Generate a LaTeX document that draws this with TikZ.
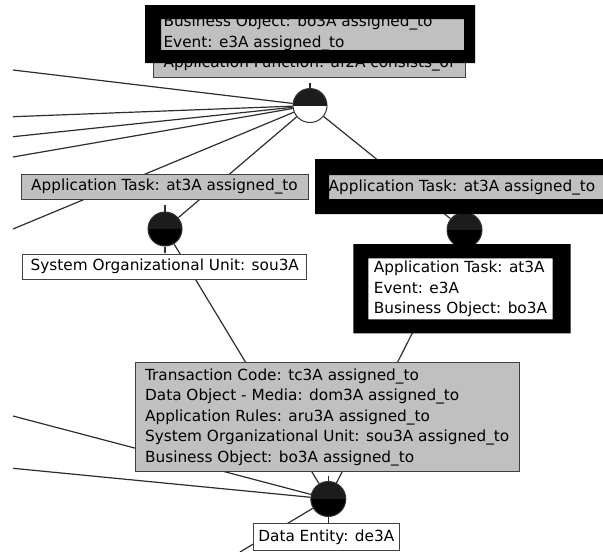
\documentclass[tikz,border=0pt]{standalone}
\usepackage{fontspec}
\usetikzlibrary{backgrounds}
\newfontfamily\diafont{DejaVu Sans}
\definecolor{boxgray}{HTML}{C0C0C0}
\definecolor{linegray}{HTML}{2E2E2E}
\definecolor{halfdark}{HTML}{1C1C1C}
\tikzset{
  % rutor
  ebox/.style={rectangle,draw=black!75,line width=1pt,fill=boxgray,text=black,
               align=left,inner sep=0pt,font=\diafont\fontsize{15.3}{20.5}\selectfont},
  wbox/.style={ebox,fill=white},
  hbox/.style={ebox,fill=white,draw=none},
  hiframe/.style={fill=black,even odd rule},
  % knutar
  junc/.style={circle,draw=black!80,line width=1pt,inner sep=0pt,minimum size=34pt,
               path picture={\fill[halfdark] (path picture bounding box.west)
                 rectangle (path picture bounding box.north east);}},
  juncw/.style={junc,fill=white},
  juncb/.style={junc,fill=black},
  link/.style={draw=linegray,line width=1.2pt},
}

\begin{document}
\begin{tikzpicture}[x=1pt,y=-1pt]
  \useasboundingbox (0,0) rectangle (603,552);
  % rutor
  \node[ebox,minimum width=312pt,minimum height=68.5pt] (af) at (309,43.3)
    {Business Object: bo3A assigned\_to\\Event: e3A assigned\_to\\Application Function: af2A consists\_of};
  \node[ebox,minimum width=287pt,minimum height=25pt] (at1) at (164.5,186.5) {Application Task: at3A assigned\_to};
  \node[ebox,minimum width=287pt,minimum height=25pt] (at2) at (462,187) {Application Task: at3A assigned\_to};
  \node[wbox,minimum width=284pt,minimum height=25pt] (sou) at (164.8,266.5) {System Organizational Unit: sou3A};
  \node[hbox,minimum width=200pt,minimum height=76pt] (ao) at (460.5,288.8)
    {Application Task: at3A\\Event: e3A\\Business Object: bo3A};
  \node[ebox,minimum width=384pt,minimum height=109pt] (tc) at (327.2,417.2)
    {Transaction Code: tc3A assigned\_to\\Data Object - Media: dom3A assigned\_to\\Application Rules: aru3A assigned\_to\\System Organizational Unit: sou3A assigned\_to\\Business Object: bo3A assigned\_to};
  \node[wbox,minimum width=146pt,minimum height=27.4pt] (de) at (326.3,537) {Data Entity: de3A};
  % knutar
  \node[juncw] (j1) at (310,105.5) {};
  \node[juncb] (j2) at (165,229) {};
  \node[juncb,minimum size=35pt] (j3) at (464.5,230) {};
  \node[juncb,minimum size=35pt] (j4) at (328.3,499) {};
  \coordinate (l1) at (13,70);
  \coordinate (l2) at (13,116.7);
  \coordinate (l3) at (13,136.7);
  \coordinate (l4) at (13,157);
  \coordinate (l5) at (13,229);
  \coordinate (l6) at (13,416);
  \coordinate (l7) at (13,468.3);
  \coordinate (l8) at (240,552);
  \draw[link] (j1.north) -- ++(0,-5.5);
  \draw[link] (j2.north) -- ++(0,-6.5);
  \draw[link] (j2.south) -- ++(0,6);
  \draw[link] (j4.north) -- ++(0,-5.5);
  \draw[link] (j4.south) -- ++(0,5.5);
  \begin{scope}[on background layer]
    \fill[white] (0,0) rectangle (603,552);
    \foreach \p in {l1,l2,l3,l4,l5} \draw[link] (\p) -- (j1);
    \draw[link] (j1) -- (j2);
    \draw[link] (j1) -- (j3);
    \draw[link] (j2) -- (j4);
    \draw[link] (j3) -- (j4);
    \foreach \p in {l6,l7,l8} \draw[link] (\p) -- (j4);
  \end{scope}
  % markeringar
  \fill[hiframe] (145,5) rectangle (475,63) (161,19) rectangle (464,50);
  \fill[hiframe] (315,159) rectangle (640,214) (329,175) rectangle (630,199);
  \fill[hiframe] (353.3,244) rectangle (570.7,333.3) (368.3,258.3) rectangle (552.7,319.3);
\end{tikzpicture}
\end{document}
